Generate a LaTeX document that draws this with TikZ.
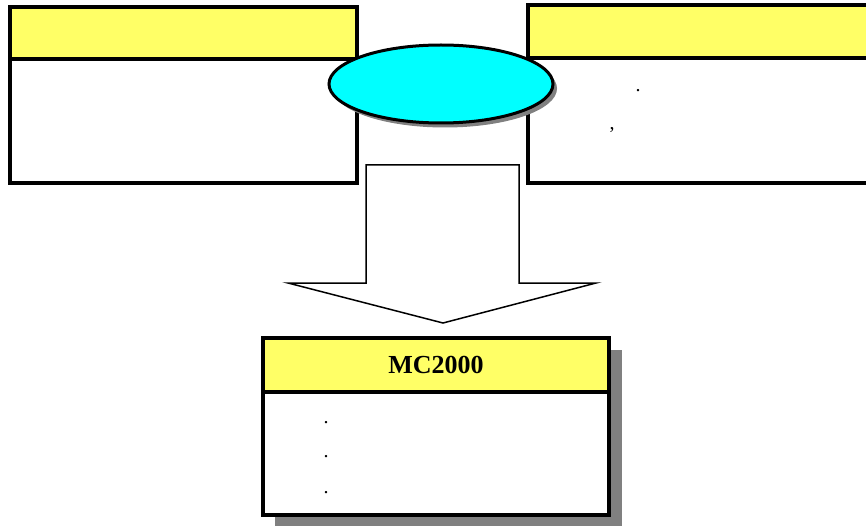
\documentclass[tikz,border=0pt]{standalone}
\usepackage{fontspec}
\setmainfont{Liberation Serif}
\usetikzlibrary{shapes.geometric}
\definecolor{hdr}{RGB}{255,255,102}
\definecolor{cy}{RGB}{0,255,255}
\definecolor{shd}{RGB}{128,128,128}
\begin{document}
\begin{tikzpicture}[x=1pt,y=-1pt,
  panel/.style={draw=black,line width=3.5pt,rectangle,inner sep=0pt,outer sep=0pt},
  head/.style={panel,fill=hdr},
  body/.style={panel,fill=white},
  dotlabel/.style={inner sep=0pt,font=\fontsize{20}{22}\selectfont},
  bigarrow/.style={draw=black,line width=1.5pt,fill=white,line join=miter}]
\useasboundingbox (0,0) rectangle (866,526);
\clip (0,0) rectangle (866,526);
% left panel
\node[body,minimum width=347pt,minimum height=124pt] (lbody) at (183.5,121) {};
\node[head,minimum width=347pt,minimum height=52pt] (lhead) at (183.5,33) {};
% right panel
\node[body,minimum width=352pt,minimum height=125pt] (rbody) at (704,120.5) {};
\node[head,minimum width=352pt,minimum height=53pt] (rhead) at (704,31.5) {};
\node[dotlabel] (rdot) at (638,91) {.};
\node[dotlabel] (rcomma) at (612,130) {,};
% ellipse
\node[ellipse,fill=shd,minimum width=224pt,minimum height=78pt,inner sep=0pt] (oshadow) at (445,88.5) {};
\node[ellipse,draw=black,line width=3pt,fill=cy,minimum width=224pt,minimum height=78pt,inner sep=0pt] (oval) at (441,84) {};
% big arrow
\draw[bigarrow] (366,165) -- (519,165) -- (519,283) -- (596,283) -- (443,323) -- (288,283) -- (366,283) -- cycle;
% bottom panel
\node[rectangle,fill=shd,minimum width=347pt,minimum height=177pt,inner sep=0pt] (bshadow) at (448.5,438.5) {};
\node[body,minimum width=346pt,minimum height=123pt] (bbody) at (436,453.5) {};
\node[head,minimum width=346pt,minimum height=54pt,font=\fontsize{26}{30}\selectfont\bfseries] (bhead) at (436,365) {MC2000};
\node[dotlabel] (b1) at (326,423) {.};
\node[dotlabel] (b2) at (326,457) {.};
\node[dotlabel] (b3) at (326,493) {.};
\end{tikzpicture}
\end{document}
